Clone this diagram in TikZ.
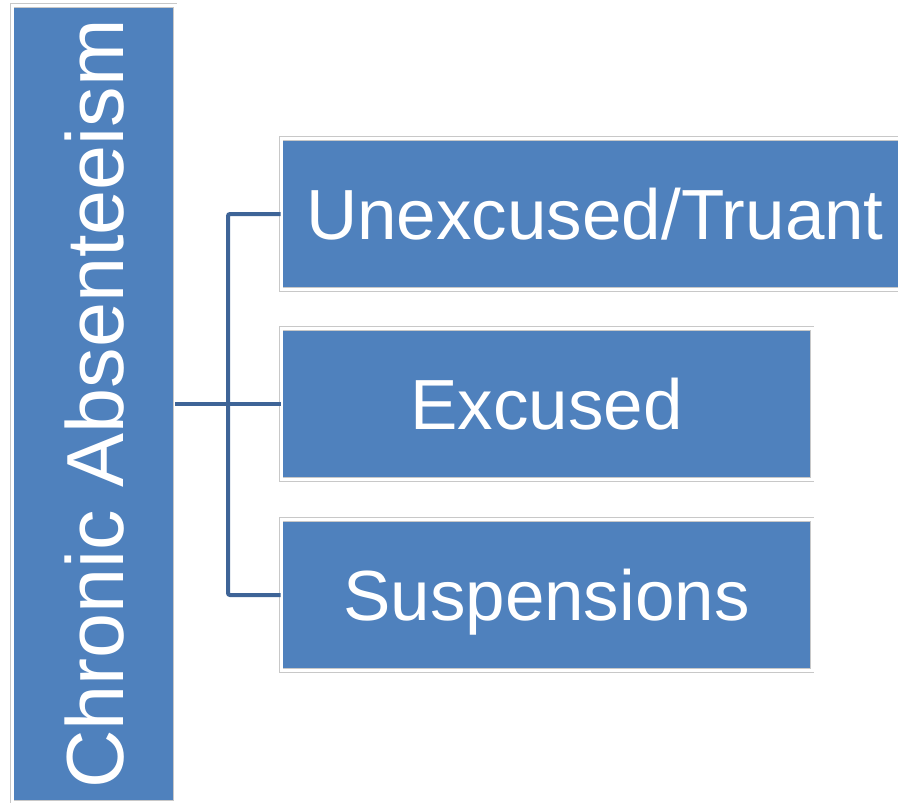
\documentclass[tikz,border=0pt]{standalone}
\usepackage{fontspec}
\setmainfont{Liberation Sans}
\usepackage{xcolor}
\definecolor{AbsBlue}{HTML}{4F81BD}
\definecolor{AbsLine}{HTML}{3E6497}
\definecolor{AbsEdge}{HTML}{C8C8C8}
\usetikzlibrary{positioning,calc}
\tikzset{
  abox/.style={draw=AbsEdge,line width=0.8pt,double=white,double distance=3pt,fill=AbsBlue,text=white,inner sep=0pt,align=center,text depth=0pt},
  abig/.style={abox,font=\fontsize{81}{90}\selectfont,text height=59pt,rotate=90,minimum width=797pt,minimum height=163pt},
  aitem/.style={abox,font=\fontsize{71}{80}\selectfont,text height=51pt,minimum height=151pt},
  alink/.style={draw=AbsLine,line width=4pt,rounded corners=2pt}
}
\begin{document}
\begin{tikzpicture}[x=1pt,y=-1pt]
  \useasboundingbox (0,0) rectangle (898,803);
  \node[abig] (absent) at (93.5,404) {Chronic Absenteeism};
  \node[aitem,minimum width=628pt] (unexcused) at (595,214) {Unexcused/Truant};
  \node[aitem,minimum width=531pt] (excused) at (546.5,404) {Excused};
  \node[aitem,minimum width=531pt] (suspensions) at (546.5,595) {Suspensions};
  \coordinate (fork) at (228,404);
  \draw[alink] (unexcused.west) -| (fork) |- (suspensions.west);
  \draw[alink] (absent.south) -- (excused.west);
\end{tikzpicture}
\end{document}
